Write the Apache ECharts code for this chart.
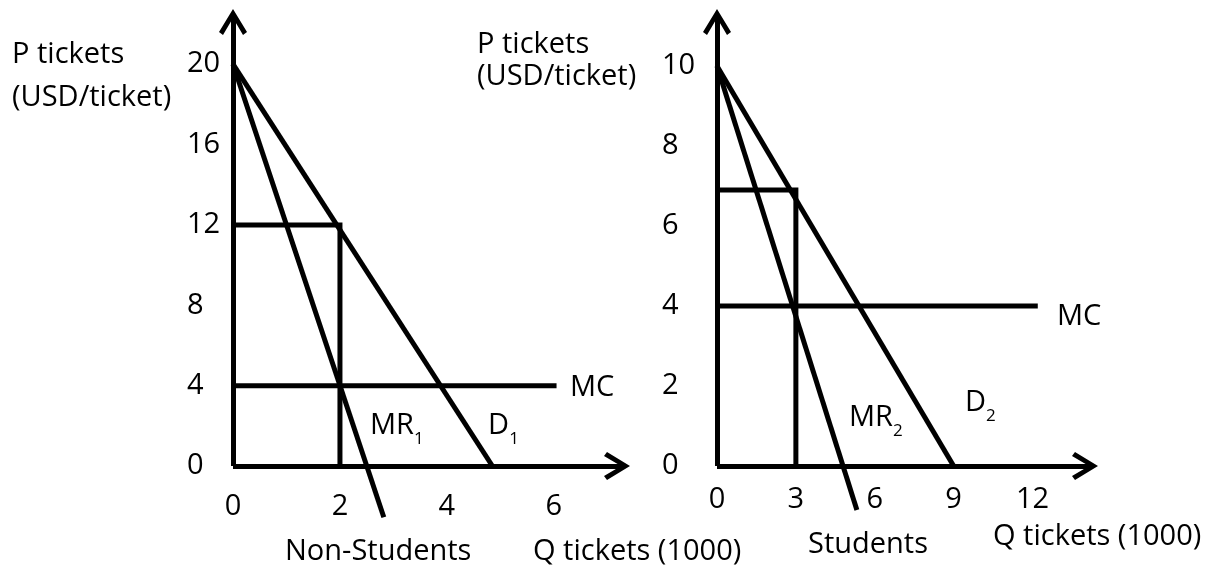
<!DOCTYPE html>
<html>
<head>
<meta charset="utf-8">
<script src="https://cdn.jsdelivr.net/npm/echarts@6/dist/echarts.min.js"></script>
<style>
  html, body { margin: 0; padding: 0; background: #fff; }
  #chart { width: 1217px; height: 570px; }
</style>
</head>
<body>
<div id="chart"></div>
<script>
// Price discrimination between two ticket markets.
// Quantity in thousands of tickets, price in USD per ticket.

// Non-students market
const nonStudentDemand = [[0, 20], [4.85, 0]];
const nonStudentMR = [[0, 20], [2.82, -2.55]];
const nonStudentMC = [[0, 4], [6.05, 4]];
const nonStudentOptimum = [[0, 12], [2, 12], [2, 0]];
const nonStudentPriceTicks = [0, 4, 8, 12, 16, 20];
const nonStudentQtyTicks = [0, 2, 4, 6];

// Students market
const studentDemand = [[0, 10], [9, 0]];
const studentMR = [[0, 10], [5.32, -1.1]];
const studentMC = [[0, 4], [12.2, 4]];
const studentOptimum = [[0, 6.9], [3, 6.9], [3, 0]];
const studentPriceTicks = [0, 2, 4, 6, 8, 10];
const studentQtyTicks = [0, 3, 6, 9, 12];

// Curve names, anchored at the left edge of the text (data units)
const nonStudentCurveLabels = [
  { value: [6.3, 3.88], text: 'MC' },
  { value: [2.56, 2.0], text: 'MR', sub: '1' },
  { value: [4.77, 2.0], text: 'D', sub: '1' }
];
const studentCurveLabels = [
  { value: [12.93, 3.73], text: 'MC' },
  { value: [5.02, 1.2], text: 'MR', sub: '2' },
  { value: [9.43, 1.58], text: 'D', sub: '2' }
];

const FONT = '"Open Sans", "DejaVu Sans", sans-serif';
const INK = '#000';
const FS = 29;
// open chevron arrow head, pointing up before the axis rotates it
const ARROW = 'path://M14 0L28 23L24 26L14 9L4 26L0 23Z';

function tickFormatter(ticks) {
  return function (v) {
    return ticks.some(t => Math.abs(t - v) < 1e-6) ? String(v) : '';
  };
}

function axisLine() {
  return {
    show: true,
    onZero: false,
    symbol: ['none', ARROW],
    symbolSize: [28, 26],
    symbolOffset: [0, -8],
    lineStyle: { color: INK, width: 5, cap: 'butt' }
  };
}

function qAxis(gridIndex, max, ticks, margin) {
  return {
    type: 'value', gridIndex, min: 0, max,
    interval: ticks[1] - ticks[0],
    axisLine: axisLine(),
    axisTick: { show: false },
    splitLine: { show: false },
    axisLabel: {
      show: true, margin, color: INK, fontFamily: FONT, fontSize: FS,
      formatter: tickFormatter(ticks)
    }
  };
}

function pAxis(gridIndex, max, ticks, margin) {
  return {
    type: 'value', gridIndex, min: 0, max,
    interval: ticks[1] - ticks[0],
    axisLine: axisLine(),
    axisTick: { show: false },
    splitLine: { show: false },
    axisLabel: {
      show: true, margin, align: 'left', verticalAlign: 'middle',
      color: INK, fontFamily: FONT, fontSize: FS,
      formatter: tickFormatter(ticks)
    }
  };
}

function curve(data, idx) {
  return {
    type: 'line', data, xAxisIndex: idx, yAxisIndex: idx,
    symbol: 'none', clip: false, silent: true, z: 3,
    lineStyle: { color: INK, width: 5, cap: 'butt', join: 'miter' },
    emphasis: { disabled: true }
  };
}

function curveNames(items, idx) {
  return {
    type: 'scatter', xAxisIndex: idx, yAxisIndex: idx,
    data: items, symbolSize: 0, clip: false, silent: true,
    itemStyle: { color: INK, opacity: 1 },
    label: {
      show: true, position: 'right', distance: 0, verticalAlign: 'middle',
      color: INK, opacity: 1, textBorderWidth: 0,
      formatter: p => p.data.sub
        ? `{m|${p.data.text}}{s|${p.data.sub}}`
        : `{m|${p.data.text}}`,
      rich: {
        m: { fontFamily: FONT, fontSize: FS, color: INK, lineHeight: 44 },
        s: { fontFamily: FONT, fontSize: 17, color: INK, lineHeight: 17, verticalAlign: 'bottom' }
      }
    },
    emphasis: { disabled: true }
  };
}

function text(x, y, str, extra) {
  return {
    type: 'text', x, y, silent: true,
    style: Object.assign({
      text: str, fill: INK, font: `${FS}px ${FONT}`, verticalAlign: 'middle'
    }, extra || {})
  };
}

const chart = echarts.init(document.getElementById('chart'), null, { renderer: 'canvas' });
chart.setOption({
  animation: false,
  backgroundColor: '#fff',
  grid: [
    { left: 233, top: 14, width: 392, height: 452, containLabel: false, outerBoundsMode: 'none' },
    { left: 717, top: 14, width: 376, height: 452, containLabel: false, outerBoundsMode: 'none' }
  ],
  xAxis: [
    qAxis(0, 7.33, nonStudentQtyTicks, 26),
    qAxis(1, 14.3, studentQtyTicks, 19)
  ],
  yAxis: [
    pAxis(0, 22.5, nonStudentPriceTicks, 46),
    pAxis(1, 11.3, studentPriceTicks, 55)
  ],
  series: [
    curve(nonStudentDemand, 0),
    curve(nonStudentMR, 0),
    curve(nonStudentMC, 0),
    curve(nonStudentOptimum, 0),
    curveNames(nonStudentCurveLabels, 0),
    curve(studentDemand, 1),
    curve(studentMR, 1),
    curve(studentMC, 1),
    curve(studentOptimum, 1),
    curveNames(studentCurveLabels, 1)
  ],
  graphic: [
    text(12, 33.5, 'P tickets\n(USD/ticket)', { verticalAlign: 'top', lineHeight: 43 }),
    text(477, 29, 'P tickets\n(USD/ticket)', { verticalAlign: 'top', lineHeight: 32 }),
    text(285, 552, 'Non-Students'),
    text(533, 552, 'Q tickets (1000)'),
    text(808, 545, 'Students'),
    text(993, 537, 'Q tickets (1000)')
  ]
});
</script>
</body>
</html>
